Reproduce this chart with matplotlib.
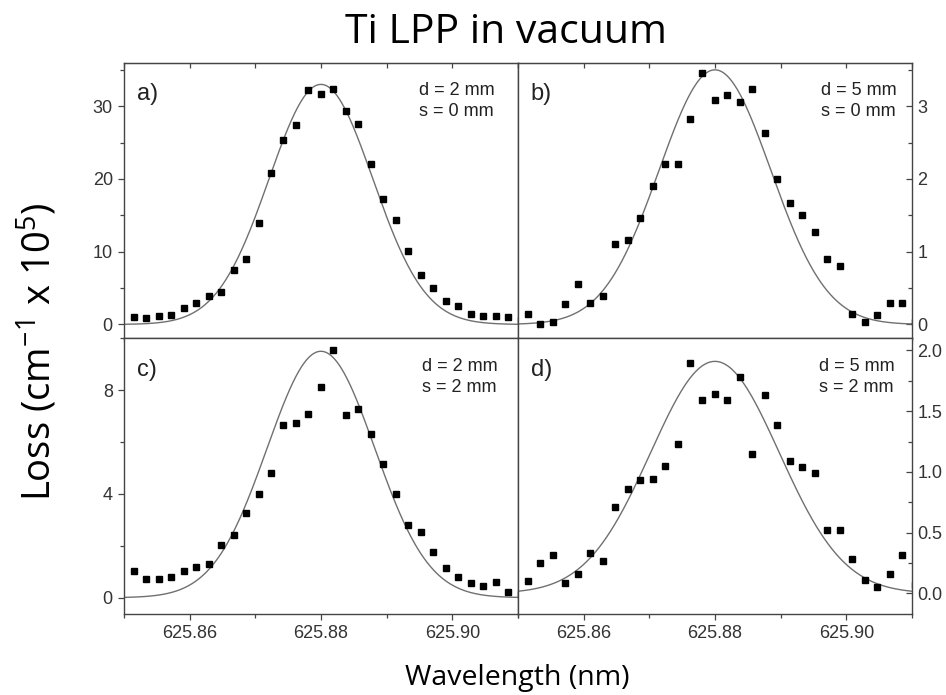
import numpy as np
import matplotlib
matplotlib.use("Agg")
import matplotlib.pyplot as plt
from matplotlib.ticker import MultipleLocator, FixedLocator, FormatStrFormatter

# measured points (same wavelength grid for all four panels)
wavelength = [625.8515, 625.8534, 625.8553, 625.8572, 625.8591, 625.8610, 625.8629, 625.8648,
              625.8667, 625.8686, 625.8705, 625.8724, 625.8743, 625.8762, 625.8781, 625.8800,
              625.8819, 625.8838, 625.8857, 625.8876, 625.8895, 625.8914, 625.8933, 625.8952,
              625.8971, 625.8990, 625.9009, 625.9028, 625.9047, 625.9066, 625.9085, 625.9104]

loss_a = [1.0, 0.9, 1.1, 1.3, 2.2, 2.9, 3.9, 4.5, 7.5, 9.0, 14.0, 20.8, 25.4, 27.4, 32.2, 31.7,
          32.3, 29.4, 27.6, 22.1, 17.2, 14.3, 10.1, 6.8, 5.0, 3.2, 2.6, 1.4, 1.2, 1.1, 1.0, 0.6]
loss_b = [0.15, 0.01, 0.04, 0.28, 0.56, 0.29, 0.39, 1.11, 1.16, 1.47, 1.90, 2.20, 2.20, 2.82, 3.45, 3.08,
          3.16, 3.06, 3.23, 2.63, 2.00, 1.67, 1.51, 1.27, 0.90, 0.80, 0.15, 0.04, 0.13, 0.30, 0.30, 0.03]
loss_c = [1.04, 0.71, 0.73, 0.78, 1.01, 1.18, 1.30, 2.05, 2.41, 3.26, 3.99, 4.81, 6.64, 6.74, 7.10, 8.14,
          9.56, 7.03, 7.27, 6.30, 5.16, 3.99, 2.79, 2.55, 1.78, 1.13, 0.81, 0.55, 0.46, 0.59, 0.21, 0.13]
loss_d = [0.10, 0.25, 0.32, 0.085, 0.16, 0.33, 0.27, 0.71, 0.86, 0.93, 0.94, 1.05, 1.23, 1.90, 1.59, 1.64,
          1.59, 1.78, 1.15, 1.63, 1.39, 1.09, 1.04, 0.99, 0.52, 0.52, 0.28, 0.11, 0.05, 0.16, 0.32, 0.07]

panel_tags = ['a)', 'b)', 'c)', 'd)']
distance_mm = [2, 5, 2, 5]
shift_mm = [0, 0, 2, 2]

# gaussian fit parameters
fit_center = [625.88, 625.88, 625.88, 625.88]
fit_height = [33.0, 3.50, 9.50, 1.91]
fit_sigma = [0.0079, 0.0085, 0.0082, 0.0098]

x_major = [625.86, 625.88, 625.90]
x_minor = [625.85, 625.87, 625.89, 625.91]

plt.rcParams['font.family'] = ['Liberation Sans', 'DejaVu Sans']
plt.rcParams['mathtext.fontset'] = 'custom'
plt.rcParams['mathtext.rm'] = 'Open Sans'
plt.rcParams['mathtext.default'] = 'regular'

fig, axes = plt.subplots(2, 2, figsize=(9.46, 6.95), dpi=100)
fig.subplots_adjust(left=0.131, right=0.964, top=0.910, bottom=0.1165, hspace=0, wspace=0)

series = [loss_a, loss_b, loss_c, loss_d]
ylims = [(-1.9, 36), (-0.19, 3.6), (-0.63, 10.0), (-0.17, 2.10)]
ymajor = [10, 1, 4, 0.5]
yminor = [5, 0.5, 2, 0.25]
yfmt = ['%d', '%d', '%d', '%.1f']
text_x = [0.94, 0.962, 0.948, 0.955]

xs = np.linspace(625.85, 625.91, 400)
tick_col = '#333333'
spine_col = '#444444'

for i, ax in enumerate(axes.flat):
    fit = fit_height[i] * np.exp(-(xs - fit_center[i]) ** 2 / (2 * fit_sigma[i] ** 2))
    ax.plot(xs, fit, color='#707070', lw=1.0)
    ax.plot(wavelength, series[i], 's', color='black', ms=4.4, mec='black')

    ax.set_xlim(625.85, 625.91)
    ax.set_ylim(*ylims[i])
    ax.xaxis.set_major_locator(FixedLocator(x_major))
    ax.xaxis.set_minor_locator(FixedLocator(x_minor))
    ax.xaxis.set_major_formatter(FormatStrFormatter('%.2f'))
    ax.yaxis.set_major_locator(MultipleLocator(ymajor[i]))
    ax.yaxis.set_minor_locator(MultipleLocator(yminor[i]))
    ax.yaxis.set_major_formatter(FormatStrFormatter(yfmt[i]))

    for sp in ax.spines.values():
        sp.set_color(spine_col)
        sp.set_linewidth(1.0)

    ax.tick_params(axis='both', which='both', direction='out', colors=spine_col,
                   labelcolor=tick_col, labelsize=13, width=0.9)
    ax.tick_params(which='major', length=4.5)
    ax.tick_params(which='minor', length=3)
    ax.tick_params(axis='x', top=False, bottom=True, labelbottom=(i >= 2))
    if i % 2 == 1:
        ax.yaxis.tick_right()
        ax.tick_params(axis='y', which='both', left=False, right=True,
                       direction='in', pad=4)
    else:
        ax.tick_params(axis='y', which='both', left=True, right=False)

    if i < 2:
        top = ax.secondary_xaxis('top')
        top.xaxis.set_major_locator(FixedLocator(x_major))
        top.xaxis.set_minor_locator(FixedLocator(x_minor))
        top.tick_params(which='both', direction='in', length=3.5, width=0.9,
                        colors=spine_col, labeltop=False)
        top.spines['top'].set_color(spine_col)

    ax.text(0.033, 0.885, panel_tags[i], transform=ax.transAxes, fontsize=17,
            ha='left', va='center', color='#222222')
    ax.text(text_x[i], 0.86, 'd = %d mm\ns = %d mm' % (distance_mm[i], shift_mm[i]),
            transform=ax.transAxes, fontsize=13, ha='right', va='center',
            multialignment='left', linespacing=1.3, color='#222222')

fig.text(0.535, 0.938, 'Ti LPP in vacuum', fontsize=29.5, family='Open Sans',
         ha='center', va='baseline')
fig.text(0.547, 0.0144, 'Wavelength (nm)', fontsize=20.5, family='Open Sans',
         ha='center', va='baseline')
fig.text(0.054, 0.494, r'Loss (cm$^{-1}$ x 10$^{5}$)', fontsize=27.5, family='Open Sans',
         rotation=90, rotation_mode='anchor', ha='center', va='baseline')

plt.savefig('out.png', dpi=100)
